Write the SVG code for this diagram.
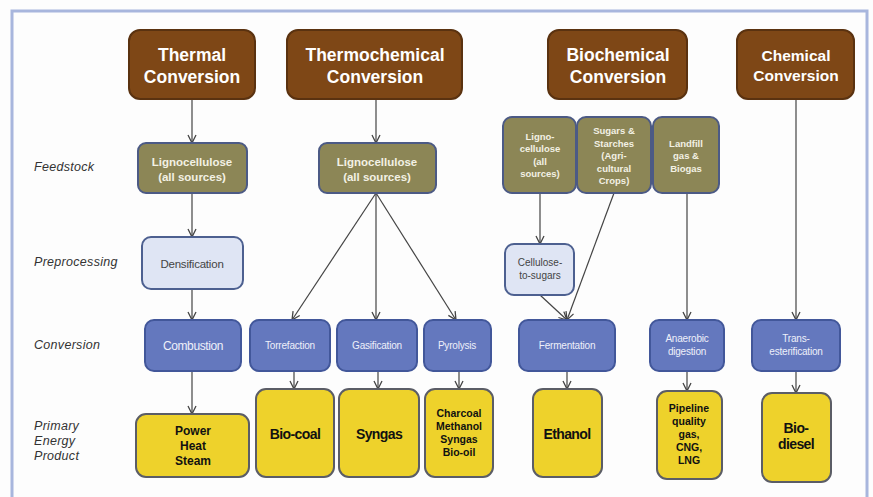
<svg xmlns="http://www.w3.org/2000/svg" width="873" height="497" viewBox="0 0 873 497">
<defs>
<marker id="arr" viewBox="0 0 10 10" refX="9" refY="5" markerWidth="10" markerHeight="10" markerUnits="userSpaceOnUse" orient="auto">
<path d="M1,1 L9,5 L1,9" fill="none" stroke="#444" stroke-width="1.3"/>
</marker>
<style>
.brown{fill:#7e4716;stroke:#5a3210;stroke-width:2}
.olive{fill:#8c8656;stroke:#4c5a85;stroke-width:2}
.blue{fill:#6478be;stroke:#42579a;stroke-width:2}
.yel{fill:#eed22b;stroke:#5b5d66;stroke-width:2}
.light{fill:#dfe5f4;stroke:#4d6090;stroke-width:2}
text{font-family:"Liberation Sans",Arial,sans-serif;text-anchor:middle}
.h{fill:#fff;font-weight:bold;font-size:17.5px}
.f{fill:#f3f1e4;font-weight:bold;font-size:11.5px}
.fs{fill:#f3f1e4;font-weight:bold;font-size:9.5px}
.c{fill:#eef0fa;font-size:10px;letter-spacing:-0.2px}
.p{fill:#111;font-weight:bold}
.big{font-size:14px;letter-spacing:-0.6px}
.lab{fill:#333;font-style:italic;font-size:12.5px;text-anchor:start;letter-spacing:0.3px}
.conn line{stroke:#444;stroke-width:1.2;marker-end:url(#arr)}
</style>
</defs>
<rect x="0" y="0" width="873" height="497" fill="#fdfdfd"/>
<rect x="12" y="11" width="855" height="500" fill="none" stroke="#a8b6dd" stroke-width="3"/>

<g id="row-labels">
<text class="lab" x="34" y="171">Feedstock</text>
<text class="lab" x="34" y="266">Preprocessing</text>
<text class="lab" x="34" y="349">Conversion</text>
<text class="lab" x="34" y="430">Primary</text>
<text class="lab" x="34" y="445">Energy</text>
<text class="lab" x="34" y="460">Product</text>
</g>

<g class="conn" id="connectors">
<line x1="192" y1="99" x2="192" y2="143"/>
<line x1="192" y1="193" x2="192" y2="237"/>
<line x1="192" y1="289" x2="192" y2="320"/>
<line x1="192" y1="371" x2="192" y2="414"/>
<line x1="376" y1="99" x2="376" y2="143"/>
<line x1="376" y1="193" x2="292" y2="320"/>
<line x1="376" y1="193" x2="376" y2="320"/>
<line x1="376" y1="193" x2="456" y2="320"/>
<line x1="294" y1="371" x2="294" y2="389"/>
<line x1="378" y1="371" x2="378" y2="389"/>
<line x1="459" y1="371" x2="459" y2="389"/>
<line x1="540" y1="193" x2="540" y2="244"/>
<line x1="540" y1="295" x2="567" y2="320"/>
<line x1="614" y1="193" x2="567" y2="320"/>
<line x1="567" y1="371" x2="567" y2="389"/>
<line x1="687" y1="193" x2="687" y2="320"/>
<line x1="687" y1="371" x2="687" y2="391"/>
<line x1="796" y1="99" x2="796" y2="320"/>
<line x1="796" y1="371" x2="796" y2="393"/>
</g>

<g id="thermal">
<rect class="brown" x="129" y="30" width="126" height="69" rx="11"/>
<text class="h" x="192" y="61">Thermal</text>
<text class="h" x="192" y="83">Conversion</text>
</g>
<g id="thermochemical">
<rect class="brown" x="287" y="30" width="175" height="69" rx="11"/>
<text class="h" x="375" y="61">Thermochemical</text>
<text class="h" x="375" y="83">Conversion</text>
</g>
<g id="biochemical">
<rect class="brown" x="548" y="30" width="139" height="69" rx="11"/>
<text class="h" x="618" y="61">Biochemical</text>
<text class="h" x="618" y="83">Conversion</text>
</g>
<g id="chemical">
<rect class="brown" x="737" y="30" width="117" height="69" rx="11"/>
<text class="h" x="796" y="61" style="font-size:15.5px">Chemical</text>
<text class="h" x="796" y="81" style="font-size:15.5px">Conversion</text>
</g>

<g id="feed-thermal">
<rect class="olive" x="138" y="143" width="109" height="50" rx="8"/>
<text class="f" x="192" y="166">Lignocellulose</text>
<text class="f" x="192" y="181">(all sources)</text>
</g>
<g id="feed-thermochemical">
<rect class="olive" x="319" y="143" width="117" height="50" rx="8"/>
<text class="f" x="377" y="166">Lignocellulose</text>
<text class="f" x="377" y="181">(all sources)</text>
</g>
<g id="feed-ligno">
<rect class="olive" x="503" y="117" width="73" height="76" rx="9"/>
<text class="fs" x="540" y="140">Ligno-</text>
<text class="fs" x="540" y="152">cellulose</text>
<text class="fs" x="540" y="165">(all</text>
<text class="fs" x="540" y="177">sources)</text>
</g>
<g id="feed-sugars">
<rect class="olive" x="577" y="117" width="74" height="76" rx="9"/>
<text class="fs" x="614" y="134">Sugars &amp;</text>
<text class="fs" x="614" y="147">Starches</text>
<text class="fs" x="614" y="159">(Agri-</text>
<text class="fs" x="614" y="172">cultural</text>
<text class="fs" x="614" y="184">Crops)</text>
</g>
<g id="feed-landfill">
<rect class="olive" x="653" y="117" width="66" height="76" rx="9"/>
<text class="fs" x="686" y="147">Landfill</text>
<text class="fs" x="686" y="159">gas &amp;</text>
<text class="fs" x="686" y="172">Biogas</text>
</g>

<g id="densification">
<rect class="light" x="142" y="237" width="101" height="52" rx="9"/>
<text x="192" y="268" style="fill:#444;font-size:11.5px;letter-spacing:-0.2px">Densification</text>
</g>
<g id="cellulose-to-sugars">
<rect class="light" x="505" y="244" width="69" height="51" rx="9"/>
<text x="540" y="266" style="fill:#444;font-size:10px">Cellulose-</text>
<text x="540" y="279" style="fill:#444;font-size:10px">to-sugars</text>
</g>

<g id="combustion">
<rect class="blue" x="145" y="320" width="96" height="51" rx="9"/>
<text class="c" x="193" y="350" style="font-size:12px;letter-spacing:-0.4px">Combustion</text>
</g>
<g id="torrefaction">
<rect class="blue" x="250" y="320" width="80" height="51" rx="9"/>
<text class="c" x="290" y="349">Torrefaction</text>
</g>
<g id="gasification">
<rect class="blue" x="337" y="320" width="80" height="51" rx="9"/>
<text class="c" x="377" y="349">Gasification</text>
</g>
<g id="pyrolysis">
<rect class="blue" x="424" y="320" width="67" height="51" rx="9"/>
<text class="c" x="457" y="349">Pyrolysis</text>
</g>
<g id="fermentation">
<rect class="blue" x="519" y="320" width="96" height="51" rx="9"/>
<text class="c" x="567" y="349">Fermentation</text>
</g>
<g id="anaerobic">
<rect class="blue" x="650" y="320" width="74" height="51" rx="9"/>
<text class="c" x="687" y="342">Anaerobic</text>
<text class="c" x="687" y="355">digestion</text>
</g>
<g id="transesterification">
<rect class="blue" x="752" y="320" width="88" height="51" rx="9"/>
<text class="c" x="796" y="342">Trans-</text>
<text class="c" x="796" y="355">esterification</text>
</g>

<g id="power">
<rect class="yel" x="136" y="414" width="113" height="63" rx="10"/>
<text class="p" x="193" y="435" style="font-size:12px">Power</text>
<text class="p" x="193" y="450" style="font-size:12px">Heat</text>
<text class="p" x="193" y="465" style="font-size:12px">Steam</text>
</g>
<g id="biocoal">
<rect class="yel" x="256" y="389" width="78" height="88" rx="10"/>
<text class="p big" x="295" y="439">Bio-coal</text>
</g>
<g id="syngas">
<rect class="yel" x="339" y="389" width="80" height="88" rx="10"/>
<text class="p big" x="379" y="439">Syngas</text>
</g>
<g id="charcoal">
<rect class="yel" x="425" y="389" width="68" height="88" rx="10"/>
<text class="p" x="459" y="417" style="font-size:10.5px">Charcoal</text>
<text class="p" x="459" y="430" style="font-size:10.5px">Methanol</text>
<text class="p" x="459" y="443" style="font-size:10.5px">Syngas</text>
<text class="p" x="459" y="456" style="font-size:10.5px">Bio-oil</text>
</g>
<g id="ethanol">
<rect class="yel" x="533" y="389" width="69" height="88" rx="10"/>
<text class="p big" x="567" y="439">Ethanol</text>
</g>
<g id="pipeline">
<rect class="yel" x="657" y="391" width="65" height="88" rx="10"/>
<text class="p" x="689" y="412" style="font-size:10.5px">Pipeline</text>
<text class="p" x="689" y="425" style="font-size:10.5px">quality</text>
<text class="p" x="689" y="438" style="font-size:10.5px">gas,</text>
<text class="p" x="689" y="451" style="font-size:10.5px">CNG,</text>
<text class="p" x="689" y="464" style="font-size:10.5px">LNG</text>
</g>
<g id="biodiesel">
<rect class="yel" x="762" y="393" width="69" height="89" rx="10"/>
<text class="p big" x="796" y="433">Bio-</text>
<text class="p big" x="796" y="449">diesel</text>
</g>
</svg>
